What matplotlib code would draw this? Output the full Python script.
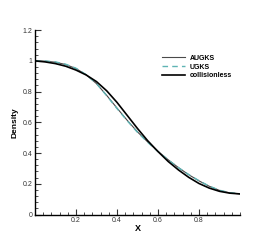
import matplotlib
matplotlib.use('Agg')
import matplotlib.pyplot as plt
from matplotlib.ticker import MultipleLocator

plt.rcParams['font.family'] = ['Liberation Sans', 'DejaVu Sans']

x = [0.0, 0.05, 0.1, 0.15, 0.2, 0.25, 0.3, 0.35, 0.4, 0.45, 0.5,
     0.55, 0.6, 0.65, 0.7, 0.75, 0.8, 0.85, 0.9, 0.95, 1.0]
rho_augks = [1.0, 0.998, 0.991, 0.976, 0.950, 0.909, 0.852, 0.775, 0.693, 0.613, 0.538,
             0.472, 0.411, 0.356, 0.305, 0.259, 0.219, 0.184, 0.157, 0.141, 0.134]
rho_ugks = [1.0, 0.999, 0.993, 0.978, 0.952, 0.910, 0.853, 0.773, 0.690, 0.610, 0.535,
            0.470, 0.410, 0.355, 0.305, 0.260, 0.220, 0.185, 0.158, 0.142, 0.135]
rho_free = [1.0, 0.993, 0.982, 0.965, 0.940, 0.908, 0.865, 0.805, 0.730, 0.645, 0.560,
            0.480, 0.410, 0.345, 0.290, 0.242, 0.202, 0.172, 0.151, 0.139, 0.134]

xticks = [0.2, 0.4, 0.6, 0.8]
yticks = [0, 0.2, 0.4, 0.6, 0.8, 1.0, 1.2]
ylabels = ['0', '0.2', '0.4', '0.6', '0.8', '1', '1.2']

fig = plt.figure(figsize=(2.73, 2.42), dpi=100)
ax = fig.add_axes([0.128, 0.1136, 0.751, 0.762])

ax.plot(x, rho_augks, color='#4a4a4a', lw=0.8, label='AUGKS')
ax.plot(x, rho_ugks, color='#5fb4b4', lw=1.0, ls=(0, (4, 3)), label='UGKS')
ax.plot(x, rho_free, color='black', lw=1.2, label='collisionless')

ax.set_xlim(0, 1)
ax.set_ylim(0, 1.2)
ax.set_xticks(xticks)
ax.set_xticklabels([str(v) for v in xticks])
ax.xaxis.set_minor_locator(MultipleLocator(0.04))
ax.set_yticks(yticks)
ax.set_yticklabels(ylabels)
ax.yaxis.set_minor_locator(MultipleLocator(0.04))

ax.spines['top'].set_visible(False)
ax.spines['right'].set_visible(False)
for s in ['left', 'bottom']:
    ax.spines[s].set_linewidth(1.0)
ax.tick_params(which='major', direction='in', length=4, width=0.8, labelsize=5, pad=2, colors='#333333')
ax.tick_params(which='minor', direction='in', length=2, width=0.6, colors='#333333')

ax.set_xlabel('X', fontsize=6.5, fontweight='bold', labelpad=0)
ax.set_ylabel('Density', fontsize=6, fontweight='bold', labelpad=3)

leg = ax.legend(loc='upper right', bbox_to_anchor=(0.99, 0.9), frameon=False,
                fontsize=5, handlelength=3.3, handletextpad=0.6, labelspacing=0.25)
for t in leg.get_texts():
    t.set_fontweight('bold')

fig.savefig('out.png', dpi=100)
